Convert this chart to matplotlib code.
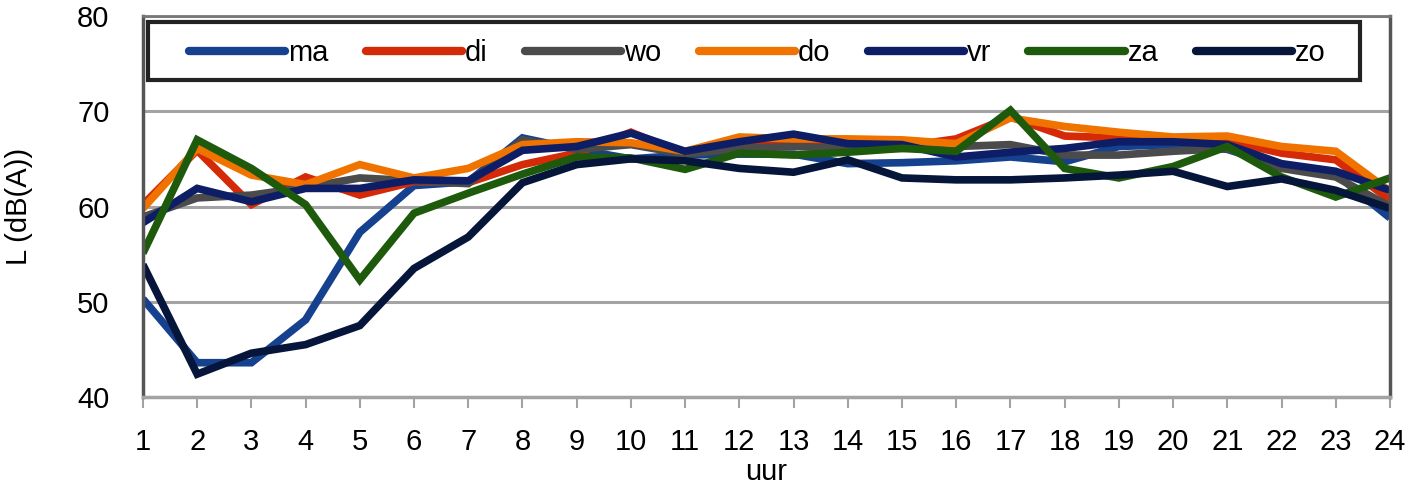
import matplotlib
matplotlib.use("Agg")

import matplotlib.pyplot as plt
import matplotlib.patches as patches
from matplotlib.lines import Line2D

# hourly sound levels per weekday
hours = list(range(1, 25))
ma = [50.3, 43.6, 43.6, 48.1, 57.3, 62.2, 62.6, 67.2, 66.0, 65.0, 65.4, 65.5,
      65.5, 64.5, 64.6, 64.8, 65.2, 64.7, 66.3, 66.5, 66.0, 64.2, 63.4, 58.8]
di = [60.2, 65.9, 60.2, 63.1, 61.2, 62.6, 62.5, 64.4, 65.6, 67.8, 65.5, 66.5,
      66.5, 66.4, 66.3, 67.1, 69.4, 67.4, 67.2, 67.1, 66.9, 65.6, 64.9, 60.7]
wo = [58.9, 60.9, 61.2, 62.0, 63.0, 62.7, 62.4, 67.0, 66.0, 66.5, 65.5, 66.1,
      66.3, 66.1, 66.1, 66.3, 66.5, 65.4, 65.4, 65.8, 66.1, 64.0, 63.1, 60.0]
do = [59.8, 66.1, 63.3, 62.3, 64.4, 63.0, 64.0, 66.5, 66.8, 66.7, 65.8, 67.3,
      67.1, 67.1, 67.0, 66.6, 69.3, 68.4, 67.8, 67.3, 67.4, 66.3, 65.8, 61.6]
vr = [58.3, 61.9, 60.5, 61.9, 61.9, 62.8, 62.7, 65.9, 66.3, 67.7, 65.8, 66.8,
      67.6, 66.6, 66.5, 65.2, 65.7, 66.1, 66.8, 66.8, 66.5, 64.5, 63.7, 61.7]
za = [55.1, 67.0, 64.0, 60.2, 52.3, 59.3, 61.4, 63.4, 65.2, 65.1, 63.9, 65.6,
      65.4, 65.7, 66.1, 65.8, 70.1, 64.0, 63.0, 64.2, 66.3, 63.1, 61.0, 63.0]
zo = [53.9, 42.4, 44.6, 45.5, 47.5, 53.5, 56.8, 62.5, 64.4, 65.0, 64.8, 64.0,
      63.6, 64.9, 63.0, 62.8, 62.8, 63.0, 63.3, 63.7, 62.1, 62.9, 61.7, 59.8]

days = ["ma", "di", "wo", "do", "vr", "za", "zo"]
series = [ma, di, wo, do, vr, za, zo]
colors = ["#15418f", "#d42a08", "#4b4b4b", "#f07300", "#0e1e66", "#1e5a0c", "#06153a"]

plt.rcParams["font.family"] = ["Liberation Sans", "DejaVu Sans"]

fig = plt.figure(figsize=(14.11, 4.90), dpi=100)
ax = fig.add_axes([0.1013, 0.1898, 0.8838, 0.7775])

for name, vals, c in zip(days, series, colors):
    ax.plot(hours, vals, color=c, linewidth=5.5, label=name,
            solid_joinstyle="miter", solid_capstyle="butt")

ax.set_xlim(1, 24)
ax.set_ylim(40, 80)
ax.set_xticks(hours)
ax.set_yticks([40, 50, 60, 70, 80])

# ── grid and frame ──
ax.grid(axis="y", color="#a3a3a3", linewidth=2.2)
ax.set_axisbelow(True)
ax.spines["bottom"].set_color("#a3a3a3")
ax.spines["bottom"].set_linewidth(2.5)
ax.spines["top"].set_color("#777777")
ax.spines["top"].set_linewidth(2)
for side in ("left", "right"):
    ax.spines[side].set_color("#555555")
    ax.spines[side].set_linewidth(2.5)

ax.tick_params(axis="x", direction="out", length=8, width=1.5, color="#a3a3a3",
               labelsize=21, pad=14)
ax.tick_params(axis="y", length=0, labelsize=21, pad=24)

ax.set_xlabel("uur", fontsize=21, labelpad=2)
ax.yaxis.set_label_coords(-0.088, 0.5)
ax.set_ylabel("L (dB(A))", fontsize=21)

# ── legend: entries centred, frame drawn as its own box ──
handles = [Line2D([0], [0], color=c, linewidth=6, solid_capstyle="round")
           for c in colors]
ax.legend(handles, days, ncol=7, loc="center",
          bbox_to_anchor=(0.4925, 0.902), fontsize=21,
          handlelength=3.3, handletextpad=0.1, columnspacing=1.28,
          borderaxespad=0, frameon=False)
box = patches.Rectangle((0.004, 0.832), 0.972, 0.152, transform=ax.transAxes,
                        facecolor="white", edgecolor="#222222", linewidth=3,
                        zorder=4)
ax.add_patch(box)

fig.savefig("out.png", dpi=100, facecolor="white")
plt.close(fig)
